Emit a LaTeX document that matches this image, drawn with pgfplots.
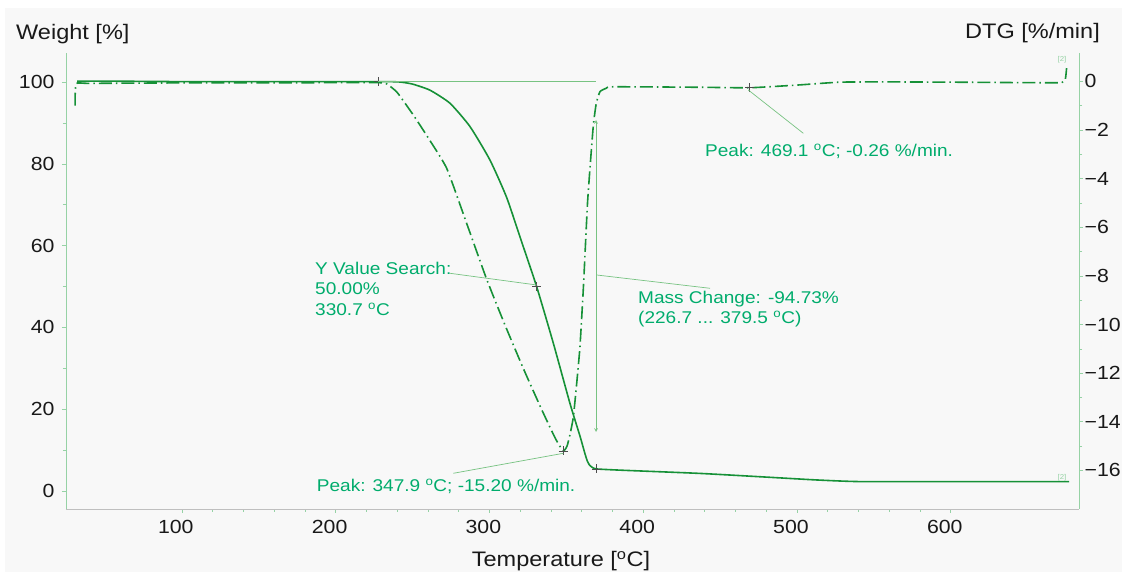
\documentclass[border=0pt]{standalone}
\usepackage{fontspec}
\setmainfont[FakeStretch=1.12]{Liberation Sans}
\usepackage{pgfplots}
\pgfplotsset{compat=1.18}
\definecolor{bg}{RGB}{248,248,248}
\definecolor{curve}{RGB}{22,145,55}
\definecolor{annot}{RGB}{0,172,108}
\definecolor{leader}{RGB}{120,195,130}
\definecolor{axisg}{RGB}{150,210,165}
\definecolor{ticktext}{RGB}{25,25,25}

\pgfplotstableread{
T W
32 100.2
60 100.2
100 100.1
150 100.1
200 100.1
227.6 100.1
235 100.1
242 100.0
250 99.5
261.4 98.0
274.4 94.8
287.4 89.1
300.4 80.9
311.2 71.8
320 62.0
330.7 50.0
341.6 36.1
352.4 21.4
359 13.3
362 9.3
363.6 7.4
365 6.4
366.8 5.8
369.5 5.4
384.9 5.1
436.9 4.3
480 3.4
512.8 2.7
541 2.3
600 2.3
677 2.3
}\weight

\pgfplotstableread{
T D
30.6 -1.0
31.3 -0.1
40 -0.08
100 -0.06
150 -0.06
200 -0.05
228 -0.05
233.2 -0.1
240 -0.45
250.5 -1.38
260 -2.3
272.2 -3.57
285 -5.8
298 -8.1
310 -10.0
322 -11.8
334 -13.5
343 -14.7
348 -15.2
350.5 -15.0
352.5 -14.5
354.6 -13.8
356.8 -12.4
358.9 -10.9
361.1 -8.5
362.4 -6.8
363.8 -5.0
365.4 -3.57
367.6 -1.79
369.5 -0.9
371.9 -0.42
376 -0.28
380.6 -0.22
437 -0.24
469.1 -0.26
500 -0.15
528 -0.03
560 -0.02
600 -0.03
650 -0.05
672 -0.05
674.5 0.1
675.3 0.55
}\dtg

\begin{document}
\begin{tikzpicture}
\useasboundingbox (0pt,0pt) rectangle (1122pt,572pt);
\fill[white] (0pt,0pt) rectangle (1122pt,572pt);
\fill[bg] (5pt,0pt) rectangle (1122pt,564pt);

\begin{axis}[
  at={(66pt,63pt)}, anchor=south west, scale only axis,
  width=1013pt, height=456pt,
  xmin=24.7, xmax=683.4, ymin=-4.4, ymax=107.1,
  axis x line*=bottom, axis y line*=left,
  x axis line style={-, draw=black!25, line width=0.8pt},
  y axis line style={-, draw=axisg, line width=0.9pt},
  xtick={100,200,...,600}, minor x tick num=4,
  ytick={0,20,...,100}, minor y tick num=1,
  tick align=outside, major tick length=4pt, minor tick length=3pt,
  tick style={draw=axisg, line width=0.6pt},
  /pgf/number format/assume math mode=true,
  ticklabel style={font=\fontsize{19}{22}\selectfont, text=ticktext},
  xticklabel style={xshift=-6pt, yshift=-4pt},
  yticklabel style={xshift=-4pt},
  clip=false,
]
\addplot[curve, line width=1.6pt, smooth, tension=0.35] table[x=T,y=W] {\weight};
\addplot[only marks, mark=+, mark size=4.5pt, draw=black!70, line width=0.6pt]
  coordinates {(227.6,100.1) (330.7,50.0) (369.5,5.4)};
\end{axis}

\begin{axis}[
  at={(66pt,63pt)}, anchor=south west, scale only axis,
  width=1013pt, height=456pt,
  xmin=24.7, xmax=683.4, ymin=-17.59, ymax=1.17,
  axis x line=none, axis y line*=right,
  y axis line style={-, draw=axisg, line width=0.9pt},
  ytick={0,-2,...,-16}, minor y tick num=1,
  yticklabels={0,−2,−4,−6,−8,−10,−12,−14,−16},
  tick align=outside, major tick length=4pt, minor tick length=3pt,
  tick style={draw=axisg, line width=0.6pt},
  ticklabel style={font=\fontsize{19}{22}\selectfont, text=ticktext},
  yticklabel style={anchor=west, xshift=-2pt},
  clip=false,
]
\addplot[curve, line width=1.6pt, smooth, tension=0.3, dash pattern=on 13pt off 4pt on 1.5pt off 4pt] table[x=T,y=D] {\dtg};
\addplot[only marks, mark=+, mark size=4.5pt, draw=black!70, line width=0.6pt]
  coordinates {(348,-15.2) (469.1,-0.26)};
\end{axis}

% annotations
\begin{scope}[line width=0.7pt, draw=leader]
\draw[leader] (378pt,491pt) -- (596pt,491pt);
\draw[leader, <->, >=stealth] (596pt,452pt) -- (596pt,140pt);
\draw[leader] (596.7pt,297pt) -- (710pt,283.7pt);
\draw[leader] (450pt,298.7pt) -- (536.7pt,287pt);
\draw[leader] (453.3pt,98.7pt) -- (563.3pt,118.7pt);
\draw[leader] (803.3pt,438.7pt) -- (748.3pt,482pt);
\end{scope}

\begin{scope}[every node/.style={anchor=base west, inner sep=0pt, text=annot, font=\fontsize{17}{20}\selectfont}]
\node at (638pt,268.7pt) {Mass Change: -94.73\%};
\node at (638pt,248.7pt) {(226.7 ... 379.5 \textsuperscript{o}C)};
\node at (315pt,297pt) {Y Value Search:};
\node at (315pt,277pt) {50.00\%};
\node at (315pt,256pt) {330.7 \textsuperscript{o}C};
\node at (316.7pt,80.3pt) {Peak: 347.9 \textsuperscript{o}C; -15.20 \%/min.};
\node at (705pt,415.3pt) {Peak: 469.1 \textsuperscript{o}C; -0.26 \%/min.};
\end{scope}

\node[anchor=base west, inner sep=0pt, text=ticktext, font=\fontsize{21}{24}\selectfont] at (16pt,532.7pt) {Weight [\%]};
\node[anchor=base east, inner sep=0pt, text=ticktext, font=\fontsize{21}{24}\selectfont] at (1100pt,533.7pt) {DTG [\%/min]};
\node[anchor=base, inner sep=0pt, text=ticktext, font=\fontsize{21}{24}\selectfont] at (561pt,5pt) {Temperature [\textsuperscript{o}C]};

\node[inner sep=0.3pt, text=axisg, font=\fontsize{7}{8}\selectfont] at (1062pt,512pt) {[2]};
\node[inner sep=0.3pt, text=axisg, font=\fontsize{7}{8}\selectfont] at (1062pt,94pt) {[2]};
\end{tikzpicture}
\end{document}
